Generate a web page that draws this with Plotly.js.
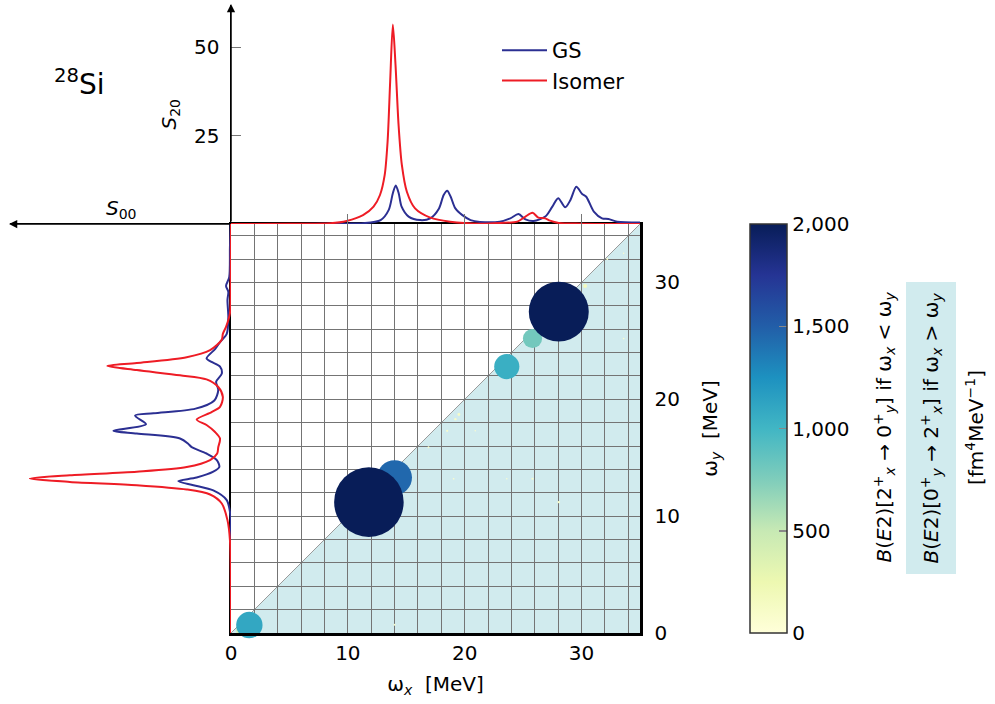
<!DOCTYPE html>
<html><head><meta charset="utf-8">
<script src="https://cdn.plot.ly/plotly-3.0.1.min.js"></script>
<style>html,body{margin:0;padding:0;background:#fff}#chart{width:995px;height:704px}</style>
</head><body><div id="chart"></div>
<script>
// ---------- data ----------
// top panel: S20 strength vs omega
const gsTopW  = [0, 4, 8, 10, 11.3, 12.8, 13.5, 13.85, 14.1, 14.35, 14.6, 15.2, 16.2, 17.05, 17.8, 18.2, 18.5, 18.8, 19.2, 19.8, 20.5, 21.3, 23.0, 23.9, 24.6, 25.2, 25.9, 26.9, 27.5, 28.0, 28.6, 29.05, 29.55, 30.05, 30.4, 31.05, 31.75, 32.3, 33.05, 35];
const gsTopS  = [0, 0, 0.05, 0.1, 0.2, 1.1, 4.0, 8.7, 10.9, 8.7, 4.9, 2.1, 1.1, 1.6, 4.4, 8.2, 9.4, 7.7, 4.4, 2.5, 1.1, 0.6, 0.66, 1.6, 2.8, 1.3, 0.85, 2.1, 4.9, 7.3, 4.7, 6.8, 10.5, 8.5, 7.7, 3.5, 1.6, 1.4, 0.66, 0.4];
const isoTopW = [0, 5, 8.5, 9.9, 11.3, 12.2, 12.75, 13.15, 13.4, 13.62, 13.85, 14.08, 14.34, 14.62, 15.05, 15.75, 17.05, 18.75, 21.3, 23.05, 24.5, 25.2, 25.8, 26.3, 26.9, 27.3, 28.05, 30, 35];
const isoTopS = [0, 0.05, 0.2, 0.85, 2.5, 4.9, 8.2, 13.8, 23.3, 40.2, 56.4, 44.9, 28, 16.7, 9.1, 4.4, 1.8, 0.66, 0.1, 0.3, 0.66, 2.1, 3.2, 1.8, 1.6, 0.94, 0.3, 0.1, 0];
// left panel: S00 strength vs omega
const gsLeftW  = [0, 8.4, 9.94, 11.37, 12.2, 12.65, 13.0, 13.3, 13.8, 14.2, 14.8, 15.36, 15.9, 16.2, 16.64, 17.07, 17.3, 17.86, 18.6, 18.8, 19.2, 19.9, 20.8, 21.5, 22.2, 22.8, 23.2, 23.5, 24.3, 24.9, 25.6, 27.0, 28.5, 29.2, 29.7, 30.45, 33.0, 35];
const gsLeftS  = [0, 0, 0.1, 1.2, 5.0, 10.6, 14.9, 9.7, 5.0, 3.3, 4.0, 6.9, 11.1, 12.1, 14.4, 26.6, 33.2, 24.0, 27.1, 21.9, 10.0, 4.7, 3.6, 4.2, 2.6, 3.1, 5.5, 6.9, 4.5, 3.1, 1.2, 0.76, 1.0, 0.76, 1.4, 0.5, 0.3, 0.1];
const isoLeftW = [0, 7.95, 9.66, 11.08, 11.85, 12.28, 12.65, 12.93, 13.22, 13.5, 13.8, 14.2, 14.8, 15.36, 15.9, 16.64, 17.2, 17.8, 18.26, 18.9, 19.35, 20.2, 21.05, 21.7, 22.05, 22.5, 22.85, 23.1, 23.6, 24.2, 25.1, 25.6, 26.2, 27.35, 30, 35];
const isoLeftS = [0, 0.3, 1.0, 2.6, 5.9, 12.5, 26.6, 45.5, 56.8, 45.5, 26.6, 12.5, 5.9, 3.9, 3.6, 3.1, 4.5, 6.9, 9.7, 5.5, 3.1, 2.3, 3.6, 6.9, 14.4, 26.6, 34.9, 26.6, 12.5, 5.9, 2.6, 2.3, 1.4, 0.3, 0.1, 0];
// bubbles: B(E2) transitions (omega_x, omega_y, value)
const bubX   = [30.3, 19.5, 19.2, 18.5, 16.9, 20.9, 25.8, 28.05, 14.0, 33.6, 33.6, 32.2, 19.05, 23.6, 0.9, 25.8, 23.6, 1.57, 14.0, 28.05, 11.8];
const bubY   = [29.7, 18.7, 18.3, 17.3, 15.9, 17.3, 13.2, 11.2, 0.7, 32.5, 25.2, 32.0, 13.2, 13.2, 0.2, 25.2, 22.8, 0.68, 13.3, 27.5, 11.2];
const bubVal = [170, 120, 100, 90, 80, 60, 90, 100, 80, 60, 70, 80, 70, 60, 450, 800, 1050, 1100, 1450, 2500, 2900];
const cbTicks = [0, 500, 1000, 1500, 2000];
const omegaRange = [0, 35];

// ---------- helpers (pixel -> paper) ----------
const W = 995, H = 704;
const px = v => v / W;
const py = v => 1 - v / H;
const blue = '#2b2f92', red = '#ee1c25';
const ylgnbu = [[0,'#ffffd9'],[0.125,'#edf8b1'],[0.25,'#c7e9b4'],[0.375,'#7fcdbb'],[0.5,'#41b6c4'],[0.625,'#1d91c0'],[0.75,'#225ea8'],[0.875,'#253494'],[1,'#081d58']];

const traces = [
  {x: gsTopW, y: gsTopS, xaxis:'x2', yaxis:'y2', mode:'lines', name:'GS', line:{color:blue, width:2, shape:'spline', smoothing:0.8}},
  {x: isoTopW, y: isoTopS, xaxis:'x2', yaxis:'y2', mode:'lines', name:'Isomer', line:{color:red, width:2, shape:'spline', smoothing:0.8}},
  {x: gsLeftS, y: gsLeftW, xaxis:'x3', yaxis:'y3', mode:'lines', showlegend:false, line:{color:blue, width:2, shape:'spline', smoothing:0.8}},
  {x: isoLeftS, y: isoLeftW, xaxis:'x3', yaxis:'y3', mode:'lines', showlegend:false, line:{color:red, width:2, shape:'spline', smoothing:0.8}},
  {x: bubX, y: bubY, xaxis:'x', yaxis:'y', mode:'markers', showlegend:false, cliponaxis:false,
   marker:{size: bubVal, sizemode:'diameter', sizeref: 41.7, color: bubVal, cmin:0, cmax:2000, colorscale: ylgnbu,
     line:{width:0}, opacity:1,
     colorbar:{x:px(750), xanchor:'left', y:py(428.5), yanchor:'middle', len:409, lenmode:'pixels',
       thickness:37, thicknessmode:'pixels', outlinewidth:1.5, outlinecolor:'#333', xpad:0, ypad:0,
       tickvals: cbTicks, tickformat:',', ticks:'inside', ticklen:8, tickcolor:'#888', tickwidth:1.5,
       tickfont:{size:20, color:'black'}, ticklabelpad:4}}}
];

const axBase = {zeroline:false, tickfont:{size:20, color:'black'}};
const layout = {
  width: W, height: H, margin:{l:0, r:0, t:0, b:0},
  paper_bgcolor:'white', plot_bgcolor:'white',
  font:{family:'DejaVu Sans', size:20, color:'black'},
  showlegend:true,
  legend:{x:px(497), y:py(30), xanchor:'left', yanchor:'top', bgcolor:'rgba(0,0,0,0)', font:{size:21}, itemwidth:45},
  xaxis: Object.assign({}, axBase, {domain:[px(231), px(640)], range: omegaRange, anchor:'y', dtick:10, tick0:0,
    showgrid:true, gridcolor:'#747474', gridwidth:1, minor:{dtick:2, showgrid:true, gridcolor:'#747474', gridwidth:1},
    showline:true, linecolor:'black', linewidth:2.5, mirror:true, ticks:'',
    title:{text:'ω<sub><i>x</i></sub>\u00a0\u00a0[MeV]', standoff:14, font:{size:20}}}),
  yaxis: Object.assign({}, axBase, {domain:[py(633), py(224)], range: omegaRange, anchor:'x', side:'right', dtick:10, tick0:0,
    showgrid:true, gridcolor:'#747474', gridwidth:1, minor:{dtick:2, showgrid:true, gridcolor:'#747474', gridwidth:1},
    showline:true, linecolor:'black', linewidth:2.5, mirror:true, ticks:'', ticklabelstandoff:8,
    title:{text:'ω<sub><i>y</i></sub>\u00a0\u00a0[MeV]', standoff:24, font:{size:20}}}),
  xaxis2: Object.assign({}, axBase, {domain:[px(231), px(640)], range: omegaRange, anchor:'y2', showticklabels:false,
    showgrid:false, showline:false, tickvals:[10,20,30], ticks:'inside', ticklen:10, tickcolor:'#777'}),
  yaxis2: Object.assign({}, axBase, {domain:[py(224), py(5)], range:[0, 61.9], anchor:'x2', tickvals:[25,50],
    ticks:'inside', ticklen:10, tickcolor:'#777', showgrid:false, showline:true, linecolor:'black', linewidth:1.5,
    ticklabelstandoff:6}),
  xaxis3: Object.assign({}, axBase, {domain:[px(10), px(231)], range:[62.4, 0], anchor:'y3', side:'top',
    showline:true, linecolor:'black', linewidth:1.5, showticklabels:false, showgrid:false, ticks:''}),
  yaxis3: Object.assign({}, axBase, {domain:[py(633), py(224)], range: omegaRange, anchor:'x3', visible:false}),
  shapes: [
    {type:'path', xref:'x', yref:'y', layer:'below', line:{width:0}, fillcolor:'#d1ebee',
     path:`M ${omegaRange[0]},${omegaRange[0]} L ${omegaRange[1]},${omegaRange[1]} L ${omegaRange[1]},${omegaRange[0]} Z`},
    {type:'line', xref:'x', yref:'y', layer:'below', x0:omegaRange[0], y0:omegaRange[0], x1:omegaRange[1], y1:omegaRange[1],
     line:{color:'#9a9a9a', width:1}}
  ],
  annotations: [
    {xref:'paper', yref:'paper', x:px(231), y:py(4), ax:0, ay:219, text:'', showarrow:true, arrowhead:2, arrowsize:1.1, arrowwidth:1.5, arrowcolor:'black', standoff:0, startstandoff:0},
    {xref:'paper', yref:'paper', x:px(9), y:py(224), ax:222, ay:0, text:'', showarrow:true, arrowhead:2, arrowsize:1.1, arrowwidth:1.5, arrowcolor:'black', standoff:0, startstandoff:0},
    {xref:'paper', yref:'paper', x:px(52), xanchor:'left', y:py(62), text:'<sup>28</sup>Si', showarrow:false, font:{size:28}},
    {xref:'paper', yref:'paper', x:px(154), y:py(97), text:'<i>S</i><sub>20</sub>', textangle:-90, showarrow:false, font:{size:20}},
    {xref:'paper', yref:'paper', x:px(104), xanchor:'left', y:py(194), text:'<i>S</i><sub>00</sub>', showarrow:false, font:{size:20}},
    {xref:'paper', yref:'paper', x:px(900), y:py(427), textangle:-90, showarrow:false, font:{size:20},
     text:'<i>B</i>(<i>E</i>2)[2<sup>+</sup><sub><i>x</i></sub> → 0<sup>+</sup><sub><i>y</i></sub>] if ω<sub><i>x</i></sub> &lt; ω<sub><i>y</i></sub>'},
    {xref:'paper', yref:'paper', x:px(956), y:py(428), textangle:-90, showarrow:false, font:{size:20}, bgcolor:'#d1ebee', borderpad:10,
     text:'<i>B</i>(<i>E</i>2)[0<sup>+</sup><sub><i>y</i></sub> → 2<sup>+</sup><sub><i>x</i></sub>] if ω<sub><i>x</i></sub> &gt; ω<sub><i>y</i></sub>'},
    {xref:'paper', yref:'paper', x:px(990), y:py(428), textangle:-90, showarrow:false, font:{size:20},
     text:'[fm<sup>4</sup>MeV<sup>−1</sup>]'}
  ]
};
Plotly.newPlot('chart', traces, layout, {staticPlot:true, displayModeBar:false});
</script></body></html>
